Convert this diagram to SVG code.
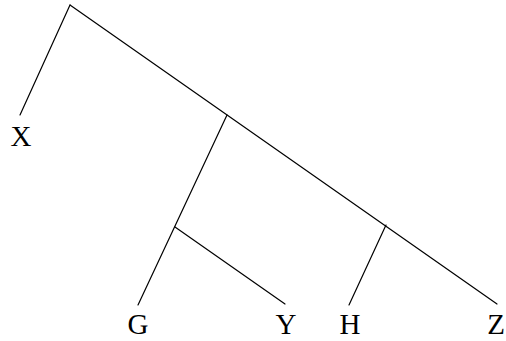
<svg xmlns="http://www.w3.org/2000/svg" width="506" height="341" viewBox="0 0 506 341">
<style>
.e{stroke:#000;stroke-width:1.2;fill:none;stroke-linecap:round}
text{font-family:"Liberation Serif","DejaVu Serif",serif;font-size:29px;fill:#000;text-anchor:middle}
</style>
<rect width="506" height="341" fill="#fff"/>
<g id="connectors">
<line class="e" x1="70" y1="5" x2="20" y2="115"/>
<line class="e" x1="70" y1="5" x2="497" y2="304"/>
<line class="e" x1="227" y1="115" x2="138" y2="305"/>
<line class="e" x1="175" y1="227" x2="285" y2="304"/>
<line class="e" x1="386" y1="225" x2="349" y2="305"/>
</g>
<g id="X"><text x="21" y="146">X</text></g>
<g id="G"><text x="138" y="334">G</text></g>
<g id="Y"><text x="286" y="334">Y</text></g>
<g id="H"><text x="350" y="334">H</text></g>
<g id="Z"><text x="496" y="334">Z</text></g>
</svg>
